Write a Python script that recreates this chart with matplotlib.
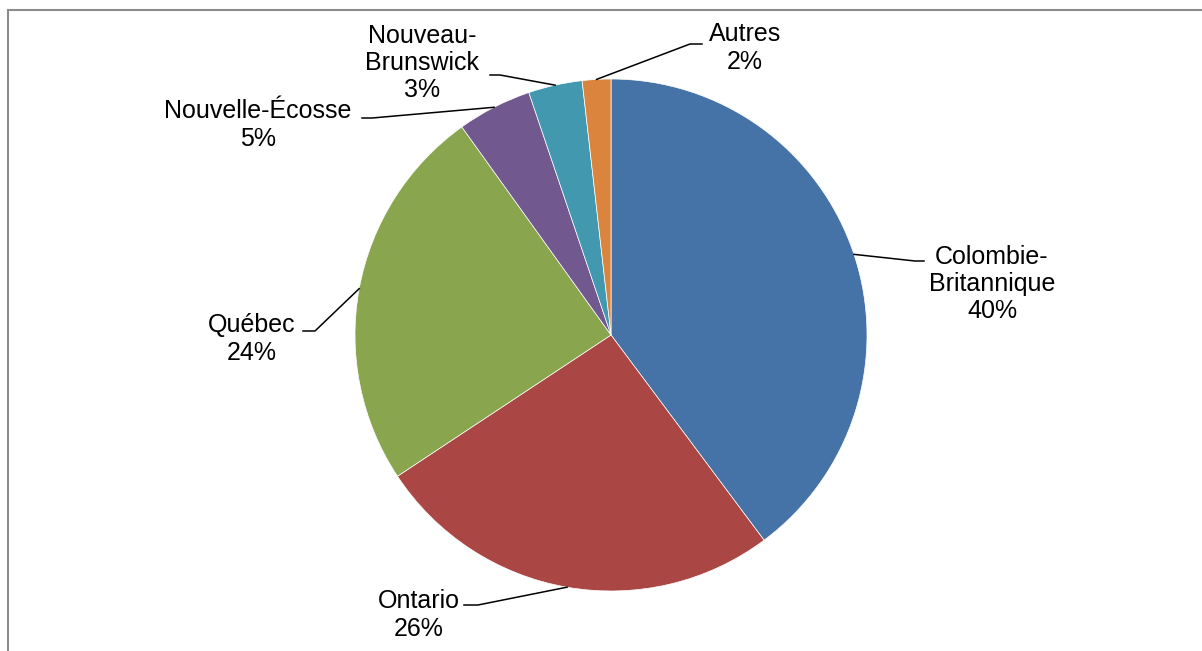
import numpy as np
import matplotlib.pyplot as plt
from matplotlib.patches import Rectangle

plt.rcParams['font.family'] = ['Liberation Sans', 'DejaVu Sans']

provinces = ['Colombie-\nBritannique', 'Ontario', 'Québec',
             'Nouvelle-Écosse', 'Nouveau-\nBrunswick', 'Autres']
shares = [39.8, 25.9, 24.4, 4.7, 3.4, 1.8]
colors = ['#4572A7', '#AA4643', '#89A54E', '#71588F', '#4198AF', '#DB843D']

# label layout in pixels: text centre, then leader elbow points (text side first)
label_xy = [(992, 284), (419, 615), (252, 339), (258, 125), (422, 63), (745, 48)]
elbows = [[(924, 261), (915, 261)],
          [(464, 605), (478, 605)],
          [(303, 331), (315, 331)],
          [(362, 118), (372, 118)],
          [(490, 75), (500, 75)],
          [(702, 44), (690, 44)]]

W, H = 1202, 651
CX, CY, R = 611, 335, 256


def to_data(p):
    return ((p[0] - CX) / R, (CY - p[1]) / R)


fig = plt.figure(figsize=(W / 100, H / 100), dpi=100)
ax = fig.add_axes([(CX - R) / W, (H - CY - R) / H, 2 * R / W, 2 * R / H])
wedges, _ = ax.pie(shares, colors=colors, startangle=90, counterclock=False,
                   radius=1, wedgeprops=dict(edgecolor='white', linewidth=0.5))
ax.set_xlim(-1, 1)
ax.set_ylim(-1, 1)
ax.axis('off')

for w, name, val, txt, elb in zip(wedges, provinces, shares, label_xy, elbows):
    ang = np.deg2rad((w.theta1 + w.theta2) / 2)
    edge = (np.cos(ang), np.sin(ang))
    pts = [to_data(p) for p in elb] + [edge]
    xs, ys = zip(*pts)
    ax.plot(xs, ys, color='black', lw=1.1, clip_on=False)
    tx, ty = to_data(txt)
    ax.text(tx, ty, f'{name}\n{val:.0f}%', ha='center', va='center',
            multialignment='center', fontsize=18, linespacing=1.18,
            clip_on=False)

# chart frame (only top and left edges fall inside the image)
fig.patches.append(Rectangle((8 / W, -0.1), 1.2, 1 - 10 / H + 0.1,
                             transform=fig.transFigure, fill=False,
                             edgecolor='#8c8c8c', lw=1.5))

fig.savefig('out.png', dpi=100)
